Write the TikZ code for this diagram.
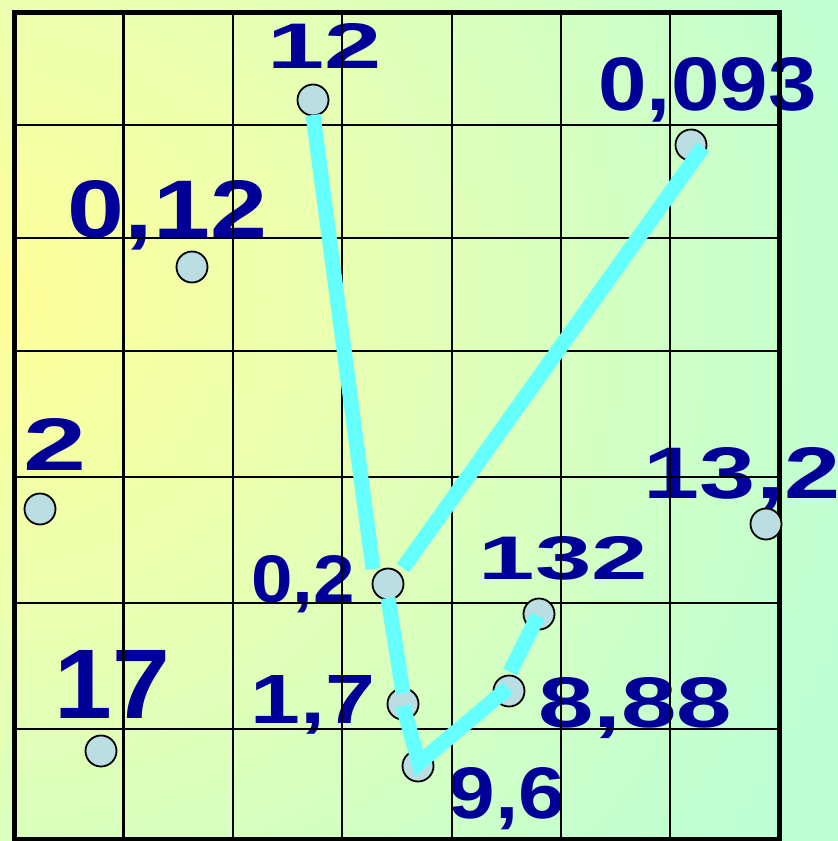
\documentclass[tikz,border=0pt]{standalone}
\usepackage{fontspec}
\setmainfont{Liberation Sans}
\usepackage{graphicx}
\definecolor{bgA}{RGB}{255,255,153}
\definecolor{bgM}{RGB}{234,255,176}
\definecolor{bgB}{RGB}{190,255,212}
\definecolor{numblue}{RGB}{0,0,153}
\definecolor{dotfill}{RGB}{186,222,226}
\definecolor{trace}{RGB}{102,255,255}
\pgfdeclareradialshading{bgrad}{\pgfpoint{0bp}{0bp}}{color(0bp)=(bgA); color(9bp)=(bgM); color(25bp)=(bgB); color(50bp)=(bgB)}
\tikzset{
  gridthin/.style={line width=2.6pt, black},
  gridthick/.style={line width=5pt, black, line cap=rect},
  dot/.style={circle, draw=black, line width=1.8pt, fill=dotfill, minimum size=31pt, inner sep=0pt},
  lbl/.style={anchor=base west, inner sep=0pt, outer sep=0pt, text=numblue, font=\bfseries},
  tracer/.style={line width=15pt, trace, line cap=butt, line join=miter}
}
\newcommand\numlab[7]{\node[lbl] (#1) at (#2,#3) {\resizebox{#4pt}{#5pt}{#6}};}
\begin{document}
\begin{tikzpicture}[x=1pt,y=-1pt]
\useasboundingbox (0,0) rectangle (838,841);
% background
\fill[bgB] (0,0) rectangle (838,841);
\begin{scope}
  \clip (0,0) rectangle (838,841);
  \shade[shading=bgrad] (0,300) circle (900);
\end{scope}
% labels (under the grid)
\numlab{l12}{267.7}{68}{114.4}{45}{12}{}
\numlab{l0093}{598.5}{110}{218}{53}{0,093}{}
\numlab{l012}{67.9}{237}{199.2}{57}{0,12}{}
\numlab{l2}{23.6}{470}{63.1}{52}{2}{}
\numlab{l132a}{643.9}{498}{196.1}{51}{13,2}{}
\numlab{l02}{251}{602}{103.7}{47}{0,2}{}
\numlab{l132}{478.9}{579}{169.2}{43}{132}{}
\numlab{l17a}{250.9}{723}{124.7}{48}{1,7}{}
\numlab{l888}{538}{727}{194}{50}{8,88}{}
\numlab{l96}{448.6}{818}{116.7}{51}{9,6}{}
\numlab{l17}{54.6}{718}{115.5}{68}{17}{}
% grid
\foreach \x in {123.5,233,342,452,561,670}
  \draw[gridthin] (\x,12.5) -- (\x,839);
\foreach \y in {125,238,351,477,603,729}
  \draw[gridthin] (14.5,\y) -- (779,\y);
\draw[gridthick] (14.5,12.5) rectangle (779,839);
% dots
\node[dot] (p12) at (313,100) {};
\node[dot] (p0093) at (691,145) {};
\node[dot] (p012) at (192,267) {};
\node[dot] (p2) at (40,509) {};
\node[dot] (p132a) at (766,524) {};
\node[dot] (p02) at (388,584) {};
\node[dot] (p132) at (539,614) {};
\node[dot] (p17a) at (403,704) {};
\node[dot] (p888) at (509,691) {};
\node[dot] (p96) at (418,766) {};
\node[dot] (p17) at (101,751) {};
% trace end points
\coordinate (a1) at (313,115);
\coordinate (a2) at (373,569);
\coordinate (b1) at (403,568);
\coordinate (b2) at (703,147);
\coordinate (c1) at (388,598);
\coordinate (c2) at (403,693);
\coordinate (d1) at (403,706);
\coordinate (d2) at (419,763);
\coordinate (d3) at (508,688);
\coordinate (e1) at (510,672);
\coordinate (e2) at (538,616);
\draw[tracer] (a1) -- (a2);
\draw[tracer] (b1) -- (b2);
\draw[tracer] (c1) -- (c2);
\draw[tracer] (d1) -- (d2) -- (d3);
\draw[tracer] (e1) -- (e2);
\end{tikzpicture}
\end{document}
